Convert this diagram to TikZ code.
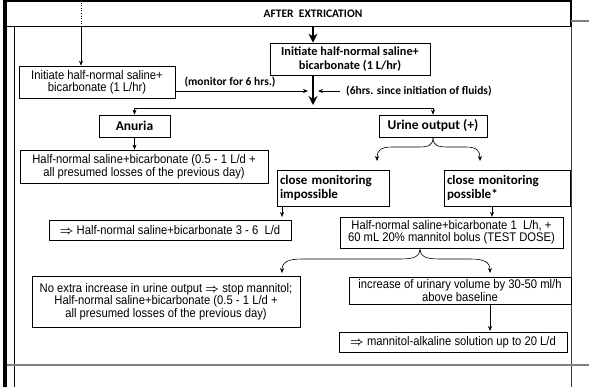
\documentclass[tikz,border=0pt]{standalone}
\usepackage{fontspec}
\setmainfont{Liberation Sans}
\newfontfamily\narrowfont{Liberation Sans}[FakeStretch=0.9]
\newfontfamily\calfont{Carlito}
\usepackage{tikz}
\usetikzlibrary{arrows.meta}
\newcommand{\thento}{{\boldmath$\Rightarrow$}}
\tikzstyle{block} = [rectangle, draw=black, line width=0.7pt, align=center, inner sep=1pt, font=\narrowfont\fontsize{12.5}{11.5}\selectfont]
\tikzstyle{bblock} = [block, font=\calfont\bfseries\fontsize{13}{14}\selectfont]
\tikzstyle{lbl} = [inner sep=0pt, font=\calfont\bfseries\fontsize{11.5}{13}\selectfont]
\tikzstyle{arrow} = [line width=0.6pt, ->, >={Stealth[length=5pt,width=4pt]}]
\tikzstyle{bigarrow} = [line width=2pt, ->, >={Stealth[length=9pt,width=9pt]}]
\tikzstyle{rule} = [line width=0.8pt]

\begin{document}
\begin{tikzpicture}[x=1pt, y=1pt]
  \useasboundingbox (0,0) rectangle (589,-387);

  % Khung bảng
  \draw[line width=3.5pt] (5,0) -- (5,-387);
  \draw[line width=1.2pt] (3,-1) -- (571,-1) -- (571,-26);
  \draw[rule] (7,-26) -- (571,-26);
  \draw[rule, black!75] (571,-26) -- (571,-387);
  \draw[rule] (14,-26) -- (14,-387);
  \draw[line width=1.5pt, gray] (571,-21) -- (589,-21);
  \draw[line width=1.5pt, gray] (7,-365) -- (589,-365);

  % Tiêu đề
  \node[font=\calfont\bfseries\fontsize{11.5}{14}\selectfont] (head) at (313,-14) {AFTER\ \ EXTRICATION};

  % Hàng 1
  \node[block, minimum width=156pt, minimum height=32pt, font=\narrowfont\fontsize{12.5}{12}\selectfont] (init1) at (97,-82) {Initiate half-normal saline+\\bicarbonate (1 L/hr)};
  \node[bblock, minimum width=160pt, minimum height=32pt, font=\calfont\bfseries\fontsize{12.3}{13.5}\selectfont] (init2) at (350,-59) {Initiate half-normal saline+\\bicarbonate (1 L/hr)};
  \node[lbl] (lblmon) at (230,-82) {(monitor for 6 hrs.)};
  \node[lbl, anchor=west] (lblsince) at (346,-91) {(6hrs. since initiation of fluids)};

  % Hàng 2
  \node[bblock, minimum width=71pt, minimum height=22pt, font=\calfont\bfseries\fontsize{13.5}{15}\selectfont] (anuria) at (134.5,-126) {Anuria};
  \node[bblock, minimum width=108pt, minimum height=22pt, font=\calfont\bfseries\fontsize{13.5}{15}\selectfont] (urine) at (433,-126) {Urine output (+)};

  % Hàng 3
  \node[block, minimum width=248pt, minimum height=33pt] (halfA) at (144,-166.5) {Half-normal saline+bicarbonate (0.5 - 1 L/d +\\all presumed losses of the previous day)};
  \node[bblock, minimum width=112pt, minimum height=36pt, align=left, text width=106pt] (imposs) at (333,-188) {close monitoring\\impossible};
  \node[bblock, minimum width=126pt, minimum height=36pt, align=left, text width=120pt] (poss) at (507,-188) {close monitoring\\possible*};

  % Hàng 4
  \node[block, minimum width=242pt, minimum height=20pt] (halfB) at (170,-230) {\thento\ Half-normal saline+bicarbonate 3 - 6\ \ L/d};
  \node[block, minimum width=223pt, minimum height=31pt, font=\narrowfont\fontsize{12.5}{10.5}\selectfont] (testdose) at (451.5,-232.5) {Half-normal saline+bicarbonate 1\ \ L/h, +\\60 mL 20\% mannitol bolus (TEST DOSE)};

  % Hàng 5
  \node[block, minimum width=268pt, minimum height=51pt, font=\narrowfont\fontsize{12.5}{12.5}\selectfont] (noextra) at (166,-301.5) {No extra increase in urine output \thento\ stop mannitol;\\Half-normal saline+bicarbonate (0.5 - 1 L/d +\\all presumed losses of the previous day)};
  \node[block, minimum width=222pt, minimum height=27pt, font=\narrowfont\fontsize{12.5}{9}\selectfont] (increase) at (460,-290.5) {increase of urinary volume by 30-50 ml/h\\above baseline};
  \node[block, minimum width=228pt, minimum height=20pt] (mannitol) at (453,-342) {\thento\ mannitol-alkaline solution up to 20 L/d};

  % Mũi tên từ tiêu đề
  \coordinate (src) at (81,0);
  \coordinate (hsrc) at (81,-26);
  \coordinate (hmid) at (313,-26);
  \draw[dotted, line width=0.6pt] (src) -- (hsrc);
  \draw[arrow] (hsrc) -- (hsrc |- init1.north);
  \draw[bigarrow] (hmid) -- (hmid |- init2.north);

  % Gộp sau 6 giờ
  \coordinate (join) at (313,-91);
  \coordinate (split) at (313,-108);
  \draw[bigarrow] (hmid |- init2.south) -- ([yshift=3pt]split);
  \draw[arrow] (init1.east |- join) -- ([xshift=-5pt]join);
  \draw[arrow] ([xshift=-6pt]lblsince.west) -- ([xshift=5pt]join);
  \draw[arrow] (split) -| (anuria.north);
  \draw[arrow] (split) -| (urine.north);
  \draw[arrow] (anuria.south) -- (anuria.south |- halfA.north);

  % Nhánh Urine output
  \coordinate (fork1) at (urine.south);
  \draw[arrow] (fork1) .. controls (433,-146) and (428,-147) .. (418,-147) -- (392,-147) .. controls (380,-147) and (377,-151) .. (377,-161);
  \draw[arrow] (fork1) .. controls (433,-146) and (438,-147) .. (448,-147) -- (466,-147) .. controls (477,-147) and (480,-151) .. (480,-161);
  \draw[arrow] (282,-206) -- (282,-217);
  \draw[arrow] (poss.south -| testdose.north) ++(40.5,0) -- ++(0,-10.5);

  % Nhánh TEST DOSE
  \coordinate (fork2) at (420,-248);
  \draw[arrow] (fork2) .. controls (420,-257) and (414,-259) .. (400,-259) -- (302,-259) .. controls (288,-259) and (282,-262) .. (282,-273);
  \draw[arrow] (fork2) .. controls (420,-257) and (426,-259) .. (440,-259) -- (470,-259) .. controls (484,-259) and (490,-262) .. (490,-273);
  \draw[arrow] (490,-304) -- (490,-331);
\end{tikzpicture}
\end{document}
